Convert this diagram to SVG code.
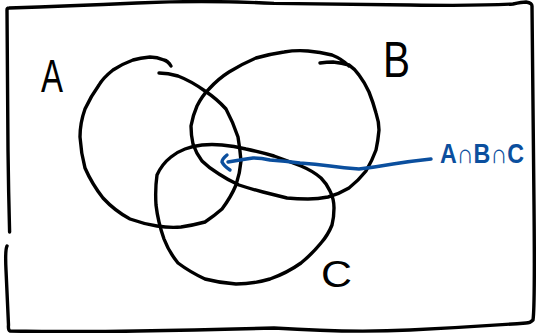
<svg xmlns="http://www.w3.org/2000/svg" width="536" height="333" viewBox="0 0 536 333">
<style>
.ink{fill:none;stroke:#000;stroke-width:3.4;stroke-linecap:round;stroke-linejoin:round}
.blue{fill:none;stroke:#0b4f9e;stroke-width:3.4;stroke-linecap:round;stroke-linejoin:round}
.lbl{font-family:"Liberation Sans",Arial,sans-serif;fill:#000}
.blbl{font-family:"Liberation Sans",Arial,sans-serif;fill:#0b4f9e;font-weight:bold}
</style>
<rect width="536" height="333" fill="#fff"/>
<g id="frame">
<path class="ink" d="M9.6,232 Q8.5,191 8,150 T7,10 Q7,8 9,8 Q68,6 137,3 T274,3.4 Q340,4 410,5 T513,4 Q522,2 526,2 Q532,3 532,6 Q533,103 534,205 T533,320 Q530,323 526,323 Q470,327 410,330 T274,328 Q200,330 137,331 T10,331 Q8,330 8.5,325 Q7,290 6,270 T7,246"/>
</g>
<g id="setA">
<path class="ink" d="M171,66 Q168,61 164,60 Q157,57 150,57 Q140,58 133,60 Q122,64 113,70 Q103,78 99,85 Q91,96 85,109 Q80,123 80,137 Q81,153 85,168 Q92,184 103,198 Q115,211 130,219 Q144,224 157,226 Q170,228 181,227 Q194,225 205,222 Q214,216 222,209 Q231,197 236,185 Q240,173 241,161 Q240,149 238,137 Q233,122 226,109 Q217,99 205,91 Q191,81 178,76 Q168,73 159,73"/>
<text class="lbl" x="41" y="92" font-size="46" textLength="22" lengthAdjust="spacingAndGlyphs">A</text>
</g>
<g id="setB">
<path class="ink" d="M320,63 Q327,62 333,62 Q342,63 349,65 Q355,69 359,75 Q365,83 369,92 Q373,102 376,113 Q379,122 379,130 Q378,141 376,150 Q372,161 366,171 Q358,181 349,188 Q339,194 328,197 Q318,199 308,199 Q297,199 287,198 Q275,195 263,192 Q251,189 239,185 Q228,180 219,174 Q209,168 202,161 Q196,153 193,144 Q191,135 191,126 Q193,115 197,106 Q202,96 209,89 Q218,79 229,72 Q242,64 256,58 Q270,54 284,52 Q296,50 308,51 Q320,52 332,55 Q342,59 349,66"/>
<text class="lbl" x="383" y="77" font-size="50" textLength="27" lengthAdjust="spacingAndGlyphs">B</text>
</g>
<g id="setC">
<path class="ink" d="M171,157 Q177,152 185,149 Q193,146 202,145 Q212,144 222,145 Q234,146 246,149 Q260,152 274,156 Q288,161 301,166 Q313,171 321,178 Q327,184 330,191 Q334,199 334,208 Q334,217 332,225 Q328,235 321,243 Q312,254 301,263 Q287,273 270,279 Q253,284 236,284 Q220,283 205,279 Q190,272 178,263 Q169,252 164,239 Q158,222 156,205 Q155,189 157,175 Q162,164 171,157"/>
<text class="lbl" x="321" y="287" font-size="37" textLength="31" lengthAdjust="spacingAndGlyphs">C</text>
</g>
<g id="connectors">
<path class="blue" d="M431,159 Q412,161 393,164 Q376,167 359,169 Q344,168 330,166 Q315,164 300,163 Q285,161 270,160 Q261,158 253,158 Q246,159 240,160 Q234,161 228,162"/>
<path class="blue" d="M227,155 Q222,159 222,162 Q224,166 230,170"/>
</g>
<g id="label-abc">
<text class="blbl" x="440" y="163" font-size="27" textLength="84" lengthAdjust="spacingAndGlyphs">A∩B∩C</text>
</g>
</svg>
